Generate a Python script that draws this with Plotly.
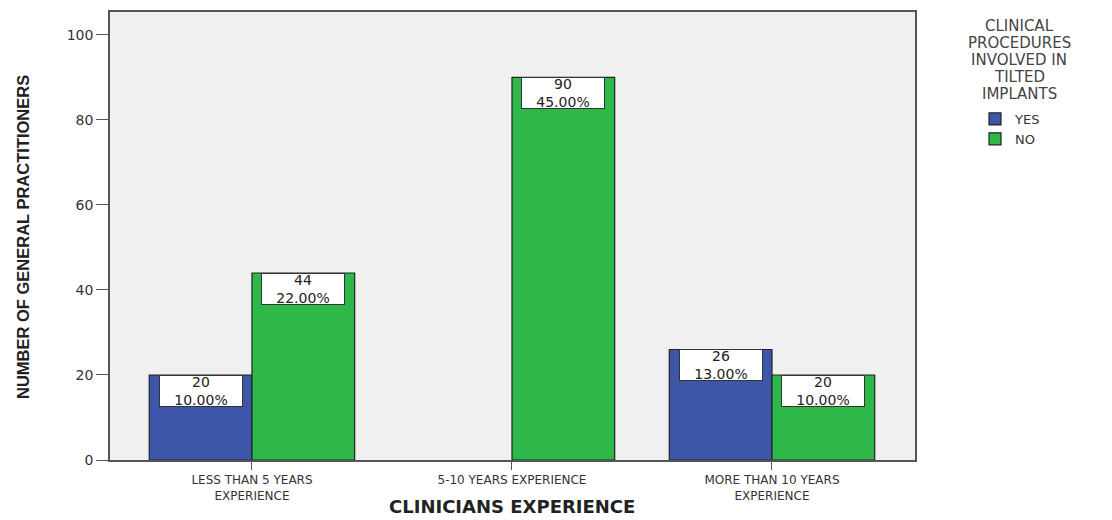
import plotly.graph_objects as go

categories = ["LESS THAN 5 YEARS<br>EXPERIENCE", "5-10 YEARS EXPERIENCE", "MORE THAN 10 YEARS<br>EXPERIENCE"]
yes_values = [20, None, 26]
no_values = [44, 90, 20]
yes_pct = ["10.00%", None, "13.00%"]
no_pct = ["22.00%", "45.00%", "10.00%"]
legend_title_lines = ["CLINICAL", "PROCEDURES", "INVOLVED IN", "TILTED", "IMPLANTS"]
y_ticks = [0, 20, 40, 60, 80, 100]

BLUE = "#3d56aa"
GREEN = "#2fb84a"
WIDE = "DejaVu Sans, Liberation Sans, sans-serif"
xpos = [0, 1, 2]
bw = 0.395

# plot area in pixels (for converting fixed text positions to paper coords)
L, R, T, B = 110, 915, 12, 460
W, H = R - L, B - T


def px_x(p):
    return (p - L) / W


def px_y(p):
    return (B - p) / H


fig = go.Figure()
fig.add_trace(go.Bar(x=xpos, y=yes_values, name="YES",
                     marker=dict(color=BLUE, line=dict(color="#222", width=1.2))))
fig.add_trace(go.Bar(x=xpos, y=no_values, name="NO",
                     marker=dict(color=GREEN, line=dict(color="#222", width=1.2))))

for i in xpos:
    for vals, pcts, off in ((yes_values, yes_pct, -bw / 2), (no_values, no_pct, bw / 2)):
        if pcts[i] is None or not vals[i]:
            continue
        fig.add_annotation(x=i + off, y=vals[i], xref="x", yref="y", yanchor="top",
                           text=f"{vals[i]}<br>{pcts[i]}", showarrow=False,
                           bgcolor="white", bordercolor="#333", borderwidth=1, borderpad=0,
                           font=dict(family=WIDE, size=14, color="#222"),
                           width=82, height=30, align="center", valign="middle")

# legend title (one line each for tight spacing)
for k, line in enumerate(legend_title_lines):
    fig.add_annotation(x=px_x(1019), y=px_y(26 + 17 * k), xref="paper", yref="paper",
                       text=line, showarrow=False, xanchor="center", yanchor="middle",
                       font=dict(family=WIDE, size=15, color="#444"))

# axis titles
fig.add_annotation(x=px_x(512), y=px_y(506), xref="paper", yref="paper",
                   text="<b>CLINICIANS EXPERIENCE</b>", showarrow=False,
                   xanchor="center", yanchor="middle",
                   font=dict(family=WIDE, size=18, color="#222"))
fig.add_annotation(x=px_x(23), y=px_y(237), xref="paper", yref="paper",
                   text="<b>NUMBER OF GENERAL PRACTITIONERS</b>", showarrow=False,
                   textangle=-90, xanchor="center", yanchor="middle",
                   font=dict(family="Liberation Sans, Arial, sans-serif", size=16.5, color="#222"))

fig.update_layout(
    width=1112, height=520,
    margin=dict(l=L, r=1112 - R, t=T, b=520 - B, autoexpand=False),
    paper_bgcolor="white", plot_bgcolor="#f0f0f0",
    barmode="group", bargap=0.21, bargroupgap=0,
    font=dict(family=WIDE, color="#333"),
    showlegend=True,
    xaxis=dict(tickvals=xpos, ticktext=categories, range=[-0.546, 2.55], automargin=False,
               showline=True, linecolor="#555", linewidth=1.5, mirror=True,
               ticks="outside", ticklen=8, tickcolor="#555", showgrid=False, zeroline=False,
               tickfont=dict(family=WIDE, size=12, color="#333")),
    yaxis=dict(range=[0, 105.4], tickvals=y_ticks, automargin=False,
               showline=True, linecolor="#555", linewidth=1.5, mirror=True,
               ticks="outside", ticklen=12, tickcolor="#555", showgrid=False, zeroline=False,
               tickfont=dict(family=WIDE, size=14, color="#333")),
    legend=dict(x=px_x(975), xanchor="left", y=px_y(104), yanchor="top",
                font=dict(family=WIDE, size=13, color="#333"), traceorder="normal",
                itemwidth=30, tracegroupgap=0, bgcolor="rgba(0,0,0,0)"),
)

fig.write_html("out.html")
